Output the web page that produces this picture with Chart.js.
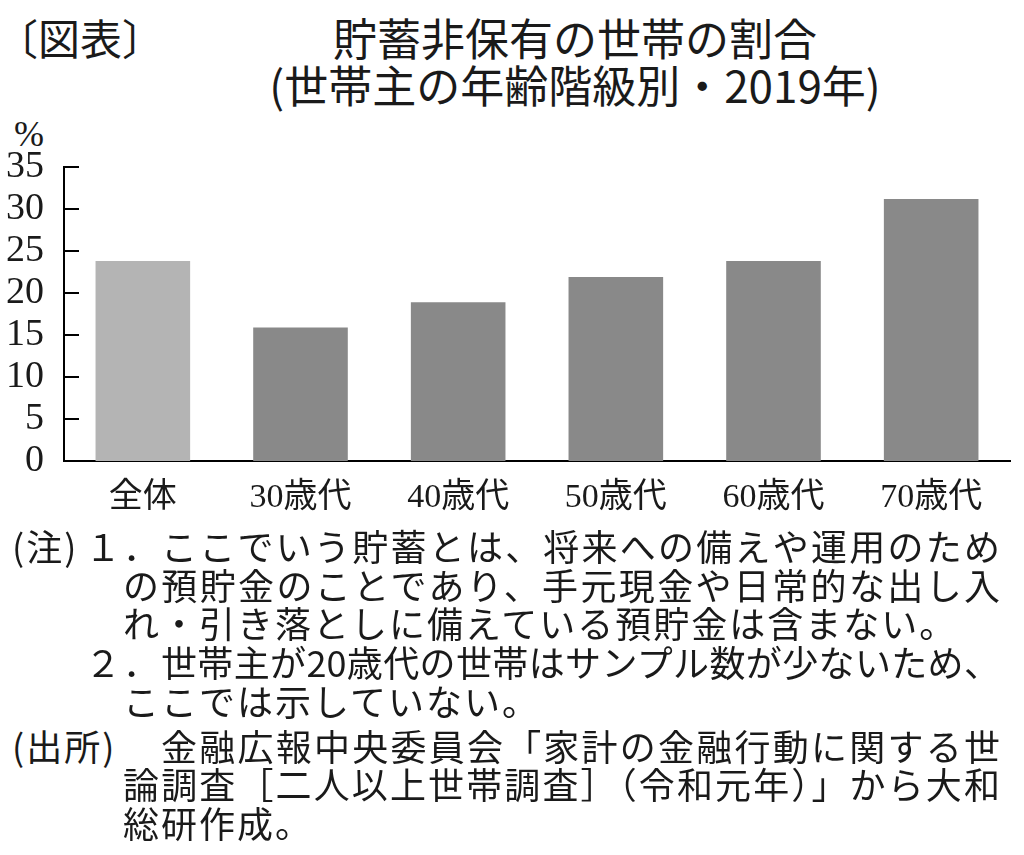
<!DOCTYPE html>
<html lang="ja">
<head>
<meta charset="utf-8">
<title>貯蓄非保有の世帯の割合</title>
<script src="https://cdn.jsdelivr.net/npm/chart.js@4/dist/chart.umd.min.js"></script>
<style>
  body { margin: 0; background: #fff; }
  #page { position: relative; width: 1024px; height: 855px; overflow: hidden; color: #1a1a1a; }
  .jp { position: absolute; font-family: "Noto Sans CJK JP", sans-serif; white-space: nowrap; }
  #tag { left: -4px; top: 12px; font-size: 42px; line-height: 50px; }
  #title { left: 125px; top: 14px; width: 900px; text-align: center; font-size: 44px; line-height: 47px; font-weight: 400; }
  #unit { position: absolute; left: 14px; top: 114px; font-family: "Liberation Serif", serif; font-size: 36px; line-height: 40px; }
  #chart { position: absolute; left: 0; top: 110px; }
  .note { font-size: 36px; line-height: 38px; letter-spacing: 2px; }
  .just { white-space: normal; text-align: justify; text-align-last: justify; letter-spacing: 0; }
</style>
</head>
<body>
<div id="page">
  <div id="tag" class="jp">〔図表〕</div>
  <div id="title" class="jp">貯蓄非保有の世帯の割合<br>(世帯主の年齢階級別・2019年)</div>
  <div id="unit">%</div>
  <canvas id="chart" width="1024" height="410"></canvas>

  <div class="jp note" style="left:12px; top:526px;">(注)</div>
  <div class="jp note" style="left:85px; top:526px;">１．</div>
  <div class="jp note just" style="left:161px; top:526px; width:839px;">ここでいう貯蓄とは、将来への備えや運用のため</div>
  <div class="jp note just" style="left:123px; top:565px; width:877px;">の預貯金のことであり、手元現金や日常的な出し入</div>
  <div class="jp note" style="left:123px; top:603px;">れ・引き落としに備えている預貯金は含まない。</div>
  <div class="jp note" style="left:85px; top:642px;">２．</div>
  <div class="jp note just" style="left:161px; top:642px; width:839px;">世帯主が20歳代の世帯はサンプル数が少ないため、</div>
  <div class="jp note" style="left:123px; top:681px;">ここでは示していない。</div>
  <div class="jp note" style="left:12px; top:726px;">(出所)</div>
  <div class="jp note just" style="left:161px; top:726px; width:839px;">金融広報中央委員会「家計の金融行動に関する世</div>
  <div class="jp note just" style="left:123px; top:764px; width:877px;">論調査［二人以上世帯調査］（令和元年）」から大和</div>
  <div class="jp note" style="left:123px; top:803px;">総研作成。</div>
</div>

<script>
// categories and values (%)
const ageGroups = ["全体", "30歳代", "40歳代", "50歳代", "60歳代", "70歳代"];
const noSavingsShare = [23.8, 15.9, 18.9, 21.9, 23.8, 31.2];
const barColors = ["#b4b4b4", "#898989", "#898989", "#898989", "#898989", "#898989"];
const yTicks = [0, 5, 10, 15, 20, 25, 30, 35];

// tick marks pointing into the plot, like the printed figure
const innerTicks = {
    id: "innerTicks",
    afterDraw(chart) {
        const ctx = chart.ctx;
        const y = chart.scales.y;
        ctx.save();
        ctx.strokeStyle = "#000";
        ctx.lineWidth = 2;
        yTicks.forEach(v => {
            if (v === 0) return;
            const py = Math.round(y.getPixelForValue(v));
            ctx.beginPath();
            ctx.moveTo(y.right, py);
            ctx.lineTo(y.right + 15, py);
            ctx.stroke();
        });
        ctx.restore();
    }
};

new Chart(document.getElementById("chart"), {
    type: "bar",
    data: {
        labels: ageGroups,
        datasets: [{
            data: noSavingsShare,
            backgroundColor: barColors,
            borderWidth: 0,
            barPercentage: 0.6,
            categoryPercentage: 1.0
        }]
    },
    options: {
        responsive: false,
        animation: false,
        layout: { padding: { top: 57, right: 14, left: 0, bottom: 0 } },
        plugins: { legend: { display: false }, tooltip: { enabled: false } },
        scales: {
            x: {
                grid: { display: false },
                border: { display: true, color: "#000", width: 2 },
                ticks: {
                    color: "#1a1a1a",
                    padding: 9,
                    font: { family: "'Liberation Serif', 'Noto Sans CJK JP'", size: 34 }
                },
                afterFit: s => { s.height = 59; }
            },
            y: {
                min: 0,
                max: 35,
                grid: { display: false },
                border: { display: true, color: "#000", width: 2 },
                afterBuildTicks: s => { s.ticks = yTicks.map(v => ({ value: v })); },
                ticks: {
                    autoSkip: false,
                    color: "#1a1a1a",
                    padding: 12,
                    font: { family: "'Liberation Serif'", size: 38 }
                },
                afterFit: s => { s.width = 64; }
            }
        }
    },
    plugins: [innerTicks]
});
</script>
</body>
</html>
